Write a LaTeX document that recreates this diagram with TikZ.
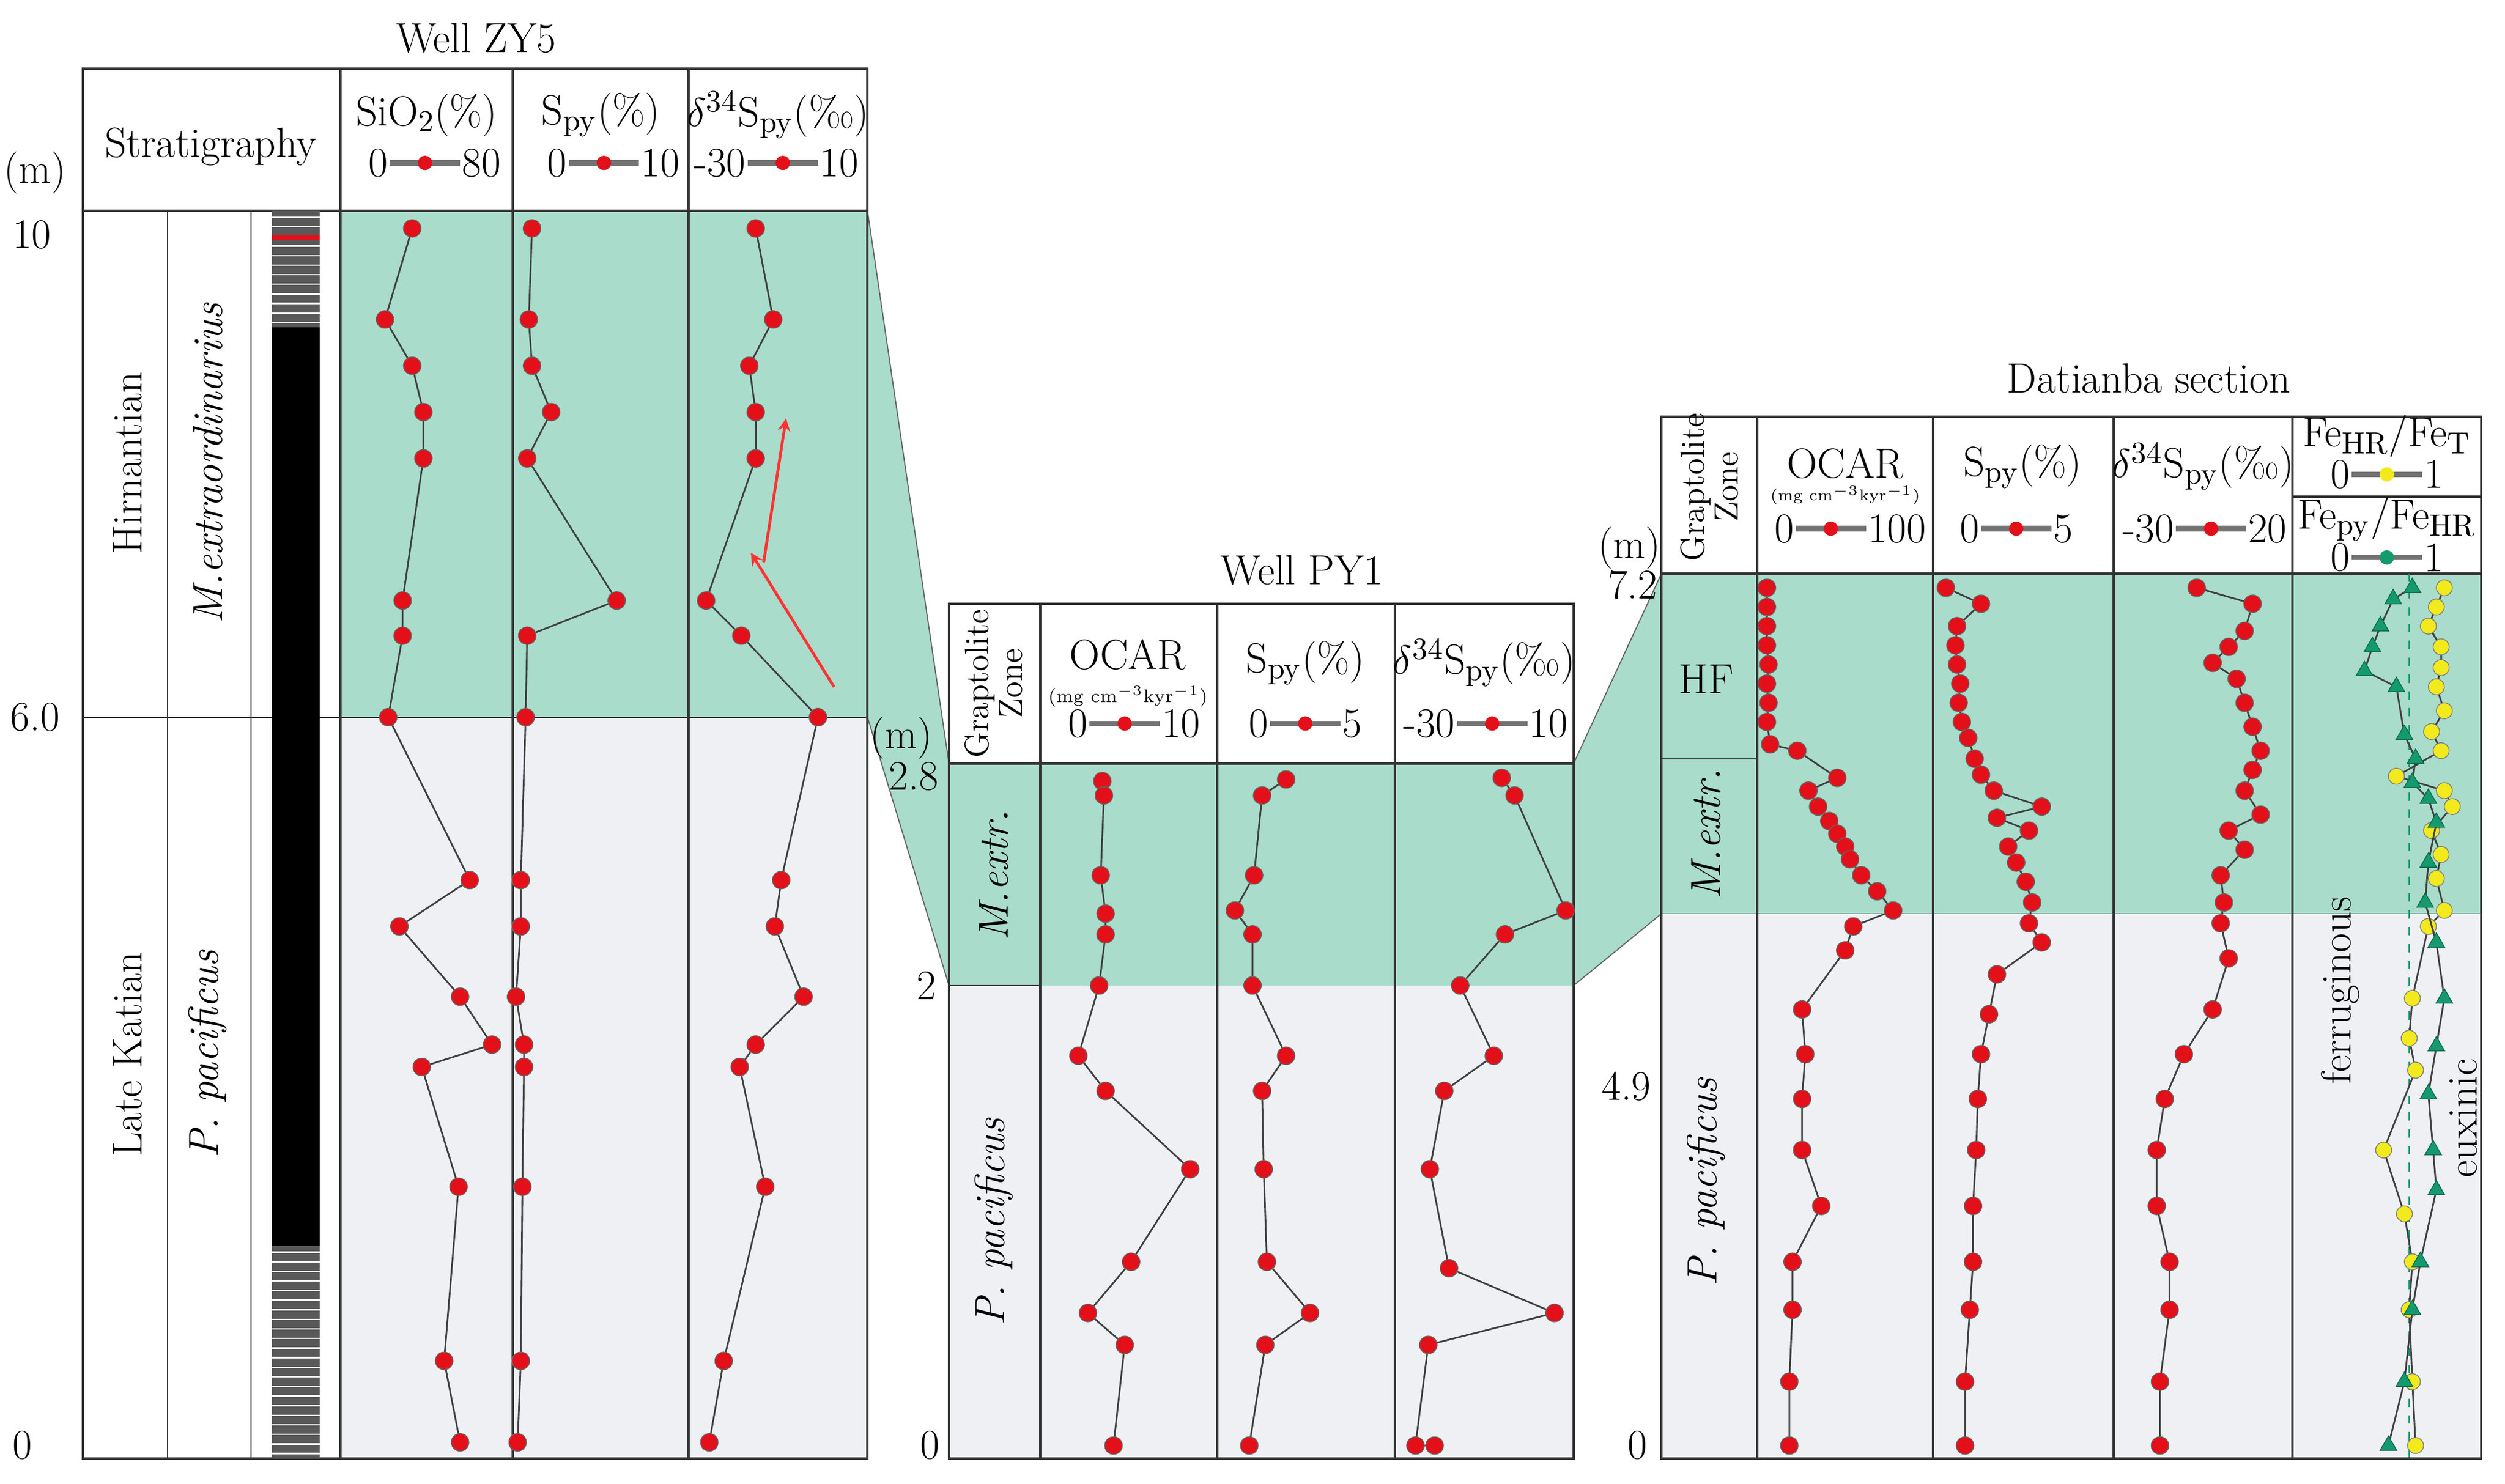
\documentclass[tikz,border=0pt]{standalone}
\usetikzlibrary{plotmarks}
\definecolor{teal1}{HTML}{A9DCCB}
\definecolor{grey1}{HTML}{EEF0F3}
\definecolor{dotred}{HTML}{E3101A}
\definecolor{feyel}{HTML}{F2EA1C}
\definecolor{fegrn}{HTML}{149A6E}
\tikzstyle{frame} = [draw=black!80, line width=0.8pt]
\tikzstyle{curve} = [draw=black!75, line width=0.6pt, mark=*, mark size=0.11cm, mark options={fill=dotred, draw=black!60, line width=0.3pt}]
\tikzstyle{lab} = [font=\fontsize{15}{17}\selectfont, inner sep=1pt]
\tikzstyle{small} = [font=\fontsize{6.5}{7}\selectfont, inner sep=0pt]
\newcommand\scaleleg[5]{%
  \begin{scope}[shift={(#1,#2)}]
    \draw[black!55, line width=2pt] (-22,0) -- (22,0);
    \node[lab, anchor=east, inner sep=0.5pt] at (-22,0) {#3};
    \node[lab, anchor=west, inner sep=0.5pt] at (22,0) {#4};
    \fill[#5] (0,0) circle (0.09cm);
  \end{scope}}

\begin{document}
\begin{tikzpicture}[x=0.02cm, y=-0.02cm]
    \useasboundingbox (0,0) rectangle (1568,929);

    % fills
    \fill[teal1] (213,132) rectangle (543,449);
    \fill[grey1] (213,449) rectangle (543,913);
    \fill[teal1] (543,132) -- (594,478) -- (594,617) -- (543,449) -- cycle;
    \fill[teal1] (594,478) rectangle (985,617);
    \fill[grey1] (594,617) rectangle (985,913);
    \fill[teal1] (985,478) -- (1040,359) -- (1040,572) -- (985,617) -- cycle;
    \fill[teal1] (1040,359) rectangle (1553,572);
    \fill[grey1] (1040,572) rectangle (1553,913);
    \draw[black!60] (543,132) -- (594,478);
    \draw[black!60] (543,449) -- (594,617);
    \draw[black!60] (985,478) -- (1040,359);
    \draw[black!60] (985,617) -- (1040,572);

    % Well ZY5 frame
    \node[lab] (zytitle) at (298,24) {Well ZY5};
    \draw[frame] (52,43) rectangle (543,913);
    \draw[frame] (52,132) -- (543,132);
    \foreach \x in {213,321,431} \draw[frame] (\x,43) -- (\x,913);
    \foreach \x in {105,157} \draw[black!80] (\x,132) -- (\x,913);
    \draw[black!80] (52,449) -- (543,449);
    % lithology
    \fill[black!65] (170,132) rectangle (200,913);
    \fill[black] (170,205) rectangle (200,780);
    \foreach \y in {136,142,...,204} \draw[white, line width=0.5pt] (170,\y) -- (200,\y);
    \foreach \y in {784,790,...,910} \draw[white, line width=0.5pt] (170,\y) -- (200,\y);
    \fill[dotred] (170,147) rectangle (200,150);

    \node[lab] at (132,92) {Stratigraphy};
    \node[lab] at (267,72) {SiO$_2$(\%)};
    \node[lab] at (376,72) {S$_{\rm py}$(\%)};
    \node[lab] at (487,72) {$\delta^{34}$S$_{\rm py}$(\textperthousand)};
    \scaleleg{266}{102}{0}{80}{dotred}
    \scaleleg{378}{102}{0}{10}{dotred}
    \scaleleg{490}{102}{-30}{10}{dotred}
    \node[lab, rotate=90] at (80,290) {Hirnantian};
    \node[lab, rotate=90] at (80,660) {Late Katian};
    \node[lab, rotate=90] at (130,290) {\itshape M.extraordinarius};
    \node[lab, rotate=90] at (130,660) {\itshape P. pacificus};
    \node[lab] at (22,108) {(m)};
    \node[lab] at (20,147) {10};
    \node[lab] at (22,449) {6.0};
    \node[lab] at (14,905) {0};

    \draw[curve] plot coordinates {(258,143) (241,200) (258,229) (265,258) (265,287) (252,376) (252,398) (243,449) (294,551) (250,580) (288,624) (308,654) (264,668) (287,743) (278,852) (288,903)};
    \draw[curve] plot coordinates {(333,143) (331,200) (333,229) (345,258) (330,287) (386,376) (330,398) (329,449) (326,551) (326,580) (323,624) (328,654) (328,668) (327,743) (326,852) (324,903)};
    \draw[curve] plot coordinates {(473,143) (484,200) (469,229) (473,258) (473,287) (442,376) (464,398) (512,449) (489,551) (485,580) (503,624) (473,654) (463,668) (479,743) (453,852) (444,903)};
    \coordinate (a1) at (478,352); \coordinate (a2) at (492,262);
    \coordinate (b1) at (522,430); \coordinate (b2) at (470,346);
    \draw[red!80, line width=1pt, ->, >=stealth] (a1) -- (a2);
    \draw[red!80, line width=1pt, ->, >=stealth] (b1) -- (b2);

    % Well PY1
    \node[lab] (pytitle) at (815,357) {Well PY1};
    \draw[frame] (594,378) rectangle (985,913);
    \draw[frame] (594,478) -- (985,478);
    \foreach \x in {651,762,873} \draw[frame] (\x,378) -- (\x,913);
    \draw[black!80] (594,617) -- (651,617);
    \node[lab, rotate=90, align=center, font=\fontsize{12}{12}\selectfont] at (622,428) {Graptolite\\Zone};
    \node[lab] at (706,410) {OCAR};
    \node[small] at (706,436) {(mg cm$^{-3}$kyr$^{-1}$)};
    \scaleleg{704}{453}{0}{10}{dotred}
    \node[lab] at (817,415) {S$_{\rm py}$(\%)};
    \scaleleg{817}{453}{0}{5}{dotred}
    \node[lab] at (929,415) {$\delta^{34}$S$_{\rm py}$(\textperthousand)};
    \scaleleg{934}{453}{-30}{10}{dotred}
    \node[lab, rotate=90] at (622,548) {\itshape M.extr.};
    \node[lab, rotate=90] at (622,765) {\itshape P. pacificus};
    \node[lab] at (564,462) {(m)};
    \node[lab] at (572,486) {2.8};
    \node[lab] at (580,617) {2};
    \node[lab] at (582,905) {0};

    \draw[curve] plot coordinates {(690,489) (691,498) (689,548) (692,572) (692,585) (688,617) (675,661) (692,683) (745,732) (708,790) (681,822) (704,842) (697,905)};
    \draw[curve] plot coordinates {(805,488) (790,498) (785,548) (773,570) (784,585) (784,617) (805,661) (790,683) (791,732) (793,790) (820,822) (792,842) (782,905)};
    \draw[curve] plot coordinates {(940,487) (948,498) (980,570) (942,585) (914,617) (935,661) (904,683) (895,732) (907,794) (973,822) (894,842) (886,905) (898,905)};

    % Datianba section
    \node[lab] (dtitle) at (1345,237) {Datianba section};
    \draw[frame] (1040,261) rectangle (1553,913);
    \draw[frame] (1040,359) -- (1553,359);
    \foreach \x in {1100,1210,1323,1435} \draw[frame] (\x,261) -- (\x,913);
    \draw[frame] (1435,311) -- (1553,311);
    \draw[black!80] (1040,475) -- (1100,475);
    \draw[black!80] (1040,572) -- (1553,572);
    \node[lab, rotate=90, align=center, font=\fontsize{12}{12}\selectfont] at (1070,305) {Graptolite\\Zone};
    \node[lab] at (1155,290) {OCAR};
    \node[small, font=\fontsize{5.5}{6}\selectfont] at (1155,310) {(mg cm$^{-3}$kyr$^{-1}$)};
    \scaleleg{1146}{331}{0}{100}{dotred}
    \node[lab] at (1266,292) {S$_{\rm py}$(\%)};
    \scaleleg{1262}{331}{0}{5}{dotred}
    \node[lab] at (1379,292) {$\delta^{34}$S$_{\rm py}$(\textperthousand)};
    \scaleleg{1384}{331}{-30}{20}{dotred}
    \node[lab] at (1494,273) {Fe$_{\rm HR}$/Fe$_{\rm T}$};
    \scaleleg{1494}{297}{0}{1}{feyel}
    \node[lab] at (1494,325) {Fe$_{\rm py}$/Fe$_{\rm HR}$};
    \scaleleg{1494}{349}{0}{1}{fegrn}
    \node[lab] at (1068,425) {HF};
    \node[lab, rotate=90] at (1068,522) {\itshape M.extr.};
    \node[lab, rotate=90] at (1068,740) {\itshape P. pacificus};
    \node[lab] at (1020,343) {(m)};
    \node[lab] at (1022,366) {7.2};
    \node[lab] at (1018,680) {4.9};
    \node[lab] at (1025,905) {0};

    \draw[curve] plot coordinates {(1106,368) (1106,380) (1106,392) (1106,404) (1107,416) (1106,428) (1107,440) (1106,452) (1108,466) (1125,470) (1150,487) (1132,495) (1138,505) (1145,514) (1150,522) (1155,530) (1158,538) (1165,548) (1175,558) (1185,570) (1160,580) (1155,595) (1128,632) (1130,660) (1128,688) (1128,720) (1140,755) (1122,790) (1122,820) (1120,865) (1120,905)};
    \draw[curve] plot coordinates {(1218,368) (1240,378) (1225,392) (1224,404) (1225,416) (1227,428) (1226,440) (1228,452) (1232,462) (1236,475) (1240,485) (1248,495) (1278,505) (1250,512) (1270,520) (1257,530) (1262,540) (1268,552) (1272,565) (1270,578) (1278,590) (1250,610) (1245,635) (1240,660) (1238,688) (1237,720) (1235,755) (1235,790) (1233,820) (1230,865) (1230,905)};
    \draw[curve] plot coordinates {(1375,368) (1410,378) (1405,395) (1395,405) (1385,415) (1400,425) (1405,440) (1410,455) (1415,470) (1410,482) (1405,495) (1415,510) (1395,520) (1405,532) (1390,548) (1392,565) (1390,578) (1395,600) (1385,632) (1367,660) (1355,688) (1350,720) (1350,755) (1358,790) (1358,820) (1352,865) (1352,905)};
    \draw[fegrn, dashed, line width=0.5pt] (1508,359) -- (1508,913);
    \draw[curve, mark options={fill=feyel, draw=black!50, line width=0.3pt}, mark size=0.1cm] plot coordinates {(1530,368) (1525,380) (1520,392) (1528,405) (1528,418) (1525,430) (1530,445) (1522,458) (1528,470) (1500,486) (1530,495) (1535,505) (1522,520) (1528,535) (1525,550) (1530,570) (1520,580) (1510,625) (1508,650) (1512,670) (1492,720) (1505,760) (1510,790) (1508,820) (1510,865) (1512,905)};
    \draw[curve, mark=triangle*, mark options={fill=fegrn, draw=fegrn!70!black, line width=0.3pt}, mark size=0.12cm] plot coordinates {(1510,368) (1498,375) (1490,392) (1485,405) (1480,420) (1500,430) (1505,460) (1512,475) (1510,490) (1520,500) (1525,515) (1520,540) (1518,565) (1525,590) (1530,625) (1525,655) (1520,685) (1523,720) (1525,745) (1515,790) (1510,820) (1505,865) (1495,905)};
    \node[lab, rotate=90] at (1465,620) {ferruginous};
    \node[lab, rotate=90] at (1542,700) {euxinic};

\end{tikzpicture}
\end{document}
